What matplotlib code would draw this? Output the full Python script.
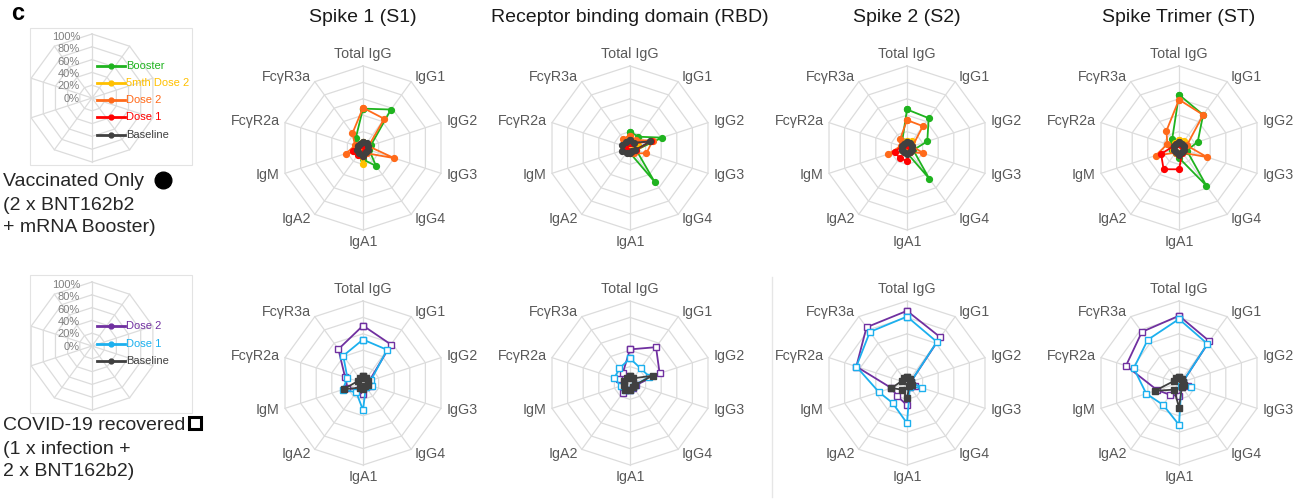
import numpy as np
import matplotlib
matplotlib.use("Agg")
from matplotlib import pyplot as plt
from matplotlib.patches import Rectangle

plt.rcParams["font.family"] = ["Liberation Sans", "DejaVu Sans"]

# ---- data (fraction of the max response) ----
features = ["Total IgG", "IgG1", "IgG2", "IgG3", "IgG4",
            "IgA1", "IgA2", "IgM", "FcγR2a", "FcγR3a"]
antigens = ["Spike 1 (S1)", "Receptor binding domain (RBD)",
            "Spike 2 (S2)", "Spike Trimer (ST)"]
pct_labels = ["100%", "80%", "60%", "40%", "20%", "0%"]

# vaccinated only: one row per antigen (S1, RBD, S2, ST)
booster = [
    [0.48, 0.58, 0.10, 0.08, 0.27, 0.14, 0.07, 0.10, 0.09, 0.15],
    [0.20, 0.17, 0.41, 0.08, 0.51, 0.06, 0.05, 0.05, 0.07, 0.10],
    [0.47, 0.45, 0.26, 0.08, 0.46, 0.06, 0.05, 0.06, 0.06, 0.10],
    [0.65, 0.50, 0.24, 0.10, 0.57, 0.12, 0.07, 0.09, 0.11, 0.14],
]
m5_dose2 = [
    [0.07, 0.06, 0.05, 0.05, 0.06, 0.20, 0.08, 0.07, 0.05, 0.06],
    [0.06, 0.06, 0.10, 0.06, 0.05, 0.05, 0.04, 0.05, 0.05, 0.06],
    [0.08, 0.10, 0.07, 0.05, 0.05, 0.05, 0.05, 0.05, 0.05, 0.06],
    [0.10, 0.10, 0.08, 0.06, 0.06, 0.06, 0.06, 0.08, 0.06, 0.08],
]
dose2 = [
    [0.49, 0.44, 0.07, 0.40, 0.08, 0.07, 0.05, 0.22, 0.10, 0.22],
    [0.15, 0.12, 0.29, 0.21, 0.08, 0.06, 0.06, 0.09, 0.09, 0.14],
    [0.34, 0.33, 0.07, 0.21, 0.06, 0.06, 0.06, 0.24, 0.08, 0.14],
    [0.59, 0.50, 0.10, 0.36, 0.07, 0.08, 0.07, 0.30, 0.15, 0.26],
]
dose1 = [
    [0.05, 0.05, 0.04, 0.05, 0.05, 0.10, 0.10, 0.13, 0.06, 0.05],
    [0.06, 0.07, 0.27, 0.08, 0.05, 0.05, 0.05, 0.06, 0.06, 0.07],
    [0.05, 0.05, 0.04, 0.05, 0.06, 0.16, 0.15, 0.16, 0.07, 0.05],
    [0.05, 0.05, 0.05, 0.06, 0.07, 0.26, 0.32, 0.23, 0.07, 0.06],
]
baseline = [
    [0.07, 0.08, 0.07, 0.06, 0.06, 0.10, 0.08, 0.08, 0.06, 0.06],
    [0.10, 0.08, 0.26, 0.07, 0.05, 0.06, 0.07, 0.10, 0.10, 0.09],
    [0.07, 0.07, 0.06, 0.06, 0.06, 0.07, 0.06, 0.07, 0.06, 0.06],
    [0.07, 0.06, 0.06, 0.06, 0.06, 0.08, 0.06, 0.07, 0.06, 0.06],
]

# COVID-19 recovered
rec_dose2 = [
    [0.70, 0.58, 0.08, 0.10, 0.06, 0.14, 0.10, 0.20, 0.23, 0.51],
    [0.41, 0.54, 0.38, 0.08, 0.07, 0.08, 0.15, 0.10, 0.14, 0.15],
    [0.88, 0.69, 0.05, 0.10, 0.06, 0.27, 0.20, 0.20, 0.65, 0.84],
    [0.82, 0.63, 0.05, 0.12, 0.06, 0.16, 0.18, 0.28, 0.68, 0.77],
]
rec_dose1 = [
    [0.53, 0.50, 0.10, 0.12, 0.06, 0.33, 0.14, 0.26, 0.20, 0.41],
    [0.30, 0.22, 0.25, 0.07, 0.06, 0.08, 0.10, 0.12, 0.20, 0.22],
    [0.81, 0.62, 0.05, 0.19, 0.06, 0.49, 0.30, 0.36, 0.65, 0.77],
    [0.78, 0.59, 0.05, 0.16, 0.05, 0.51, 0.33, 0.42, 0.58, 0.65],
]
rec_baseline = [
    [0.08, 0.07, 0.06, 0.06, 0.05, 0.07, 0.07, 0.25, 0.07, 0.07],
    [0.08, 0.07, 0.29, 0.07, 0.06, 0.09, 0.10, 0.08, 0.08, 0.07],
    [0.07, 0.06, 0.05, 0.06, 0.05, 0.18, 0.10, 0.20, 0.07, 0.07],
    [0.07, 0.06, 0.05, 0.06, 0.06, 0.30, 0.10, 0.31, 0.07, 0.07],
]

# (label, data, colour), legend order top to bottom; drawn bottom-up
vax_series = [("Booster", booster, "#1fb31f"),
              ("5mth Dose 2", m5_dose2, "#ffc000"),
              ("Dose 2", dose2, "#ff6a1a"),
              ("Dose 1", dose1, "#ff0000"),
              ("Baseline", baseline, "#404040")]
rec_series = [("Dose 2", rec_dose2, "#7030a0"),
              ("Dose 1", rec_dose1, "#1cb0ee"),
              ("Baseline", rec_baseline, "#404040")]

# ---- layout (pixels) ----
W, H = 1299, 500
GRID = "#dcdcdc"
LABEL = "#595959"
col_x = [363, 630, 907, 1179]
row_y = [148, 383]
R = 82

fig = plt.figure(figsize=(W / 100, H / 100), dpi=100)
bg = fig.add_axes([0, 0, 1, 1], zorder=0)
bg.set_xlim(0, W)
bg.set_ylim(H, 0)
bg.axis("off")

angles = np.linspace(0, 2 * np.pi, len(features), endpoint=False)
closed = np.append(angles, angles[0])


def radar_axes(cx, cy, r, z=2):
    """polar axes centred on a pixel position, decagon grid drawn by hand"""
    ax = fig.add_axes([(cx - r) / W, 1 - (cy + r) / H, 2 * r / W, 2 * r / H],
                      projection="polar", zorder=z)
    ax.set_theta_offset(np.pi / 2)
    ax.set_theta_direction(-1)
    ax.set_ylim(0, 1)
    ax.grid(False)
    ax.set_xticks([])
    ax.set_yticks([])
    ax.spines["polar"].set_visible(False)
    ax.patch.set_alpha(0)
    for ring in [0.2, 0.4, 0.6, 0.8, 1.0]:
        ax.plot(closed, [ring] * len(closed), color=GRID, lw=0.9, zorder=1,
                clip_on=False)
    for a in angles:
        ax.plot([a, a], [0, 1], color=GRID, lw=0.9, zorder=1, clip_on=False)
    return ax


def feature_labels(ax):
    for a, name in zip(angles, features):
        s, c = np.sin(a), np.cos(a)
        if abs(s) < 0.1:
            ha, va, rr = "center", ("bottom" if c > 0 else "top"), 1.06
        else:
            ha, va, rr = ("left" if s > 0 else "right"), "center", 1.07
        ax.text(a, rr, name, ha=ha, va=va, fontsize=10.3, color=LABEL)


for row, (series, marker) in enumerate([(vax_series, "o"), (rec_series, "s")]):
    for col, antigen in enumerate(antigens):
        ax = radar_axes(col_x[col], row_y[row], R)
        feature_labels(ax)
        for name, data, color in series:
            vals = np.append(data[col], data[col][0])
            if marker == "o":
                ax.plot(closed, vals, "-o", color=color, lw=1.3, ms=4.2,
                        zorder=3, clip_on=False)
            else:
                face = color if name == "Baseline" else "white"
                ax.plot(closed, vals, "-s", color=color, lw=1.3, ms=4.5,
                        mfc=face, mew=1.0, zorder=3, clip_on=False)
        if row == 0:
            bg.text(col_x[col], 17, antigen, ha="center", va="center",
                    fontsize=14, color="#1a1a1a")

# ---- legend radars on the left (kept under the legend text) ----
legend_boxes = [(30, 28, 162, 137), (30, 275, 162, 138)]
legend_centres = [(92, 98), (92, 346)]
legend_rows = [[66, 83, 100, 117, 135], [326, 344, 361]]
for (bx, by, bw, bh), (cx, cy), rows, series in zip(
        legend_boxes, legend_centres, legend_rows, [vax_series, rec_series]):
    bg.add_patch(Rectangle((bx, by), bw, bh, fill=False, ec="#e3e3e3", lw=0.8))
    radar_axes(cx, cy, 64, z=-1)
    for k, lab in enumerate(pct_labels):
        bg.text(80, cy - 61 + k * 12.3, lab, ha="right", va="center",
                fontsize=8, color="#7f7f7f", zorder=3)
    for y, (name, _, color) in zip(rows, series):
        bg.plot([97, 125], [y, y], color=color, lw=2, zorder=3)
        bg.plot([111], [y], "o", color=color, ms=3.5, zorder=3)
        bg.text(126, y, name, ha="left", va="center", fontsize=8,
                color=color, zorder=3)

# ---- group captions ----
TXT = "#262626"
for y, line in zip([181, 205, 228],
                   ["Vaccinated Only", "(2 x BNT162b2", "+ mRNA Booster)"]):
    bg.text(3, y, line, ha="left", va="center", fontsize=14, color=TXT)
bg.plot([163], [180], "o", color="black", ms=12)

for y, line in zip([425, 449, 472],
                   ["COVID-19 recovered", "(1 x infection +", "2 x BNT162b2)"]):
    bg.text(3, y, line, ha="left", va="center", fontsize=14, color=TXT)
bg.plot([195], [423], "s", mfc="white", mec="black", mew=2.2, ms=9)

bg.text(18, 14, "c", ha="center", va="center", fontsize=17,
        fontweight="bold", color="black")

# thin separator in the lower right block
bg.plot([772, 772], [277, 497], color="#e6e6e6", lw=1)

fig.savefig("out.png", dpi=100)
